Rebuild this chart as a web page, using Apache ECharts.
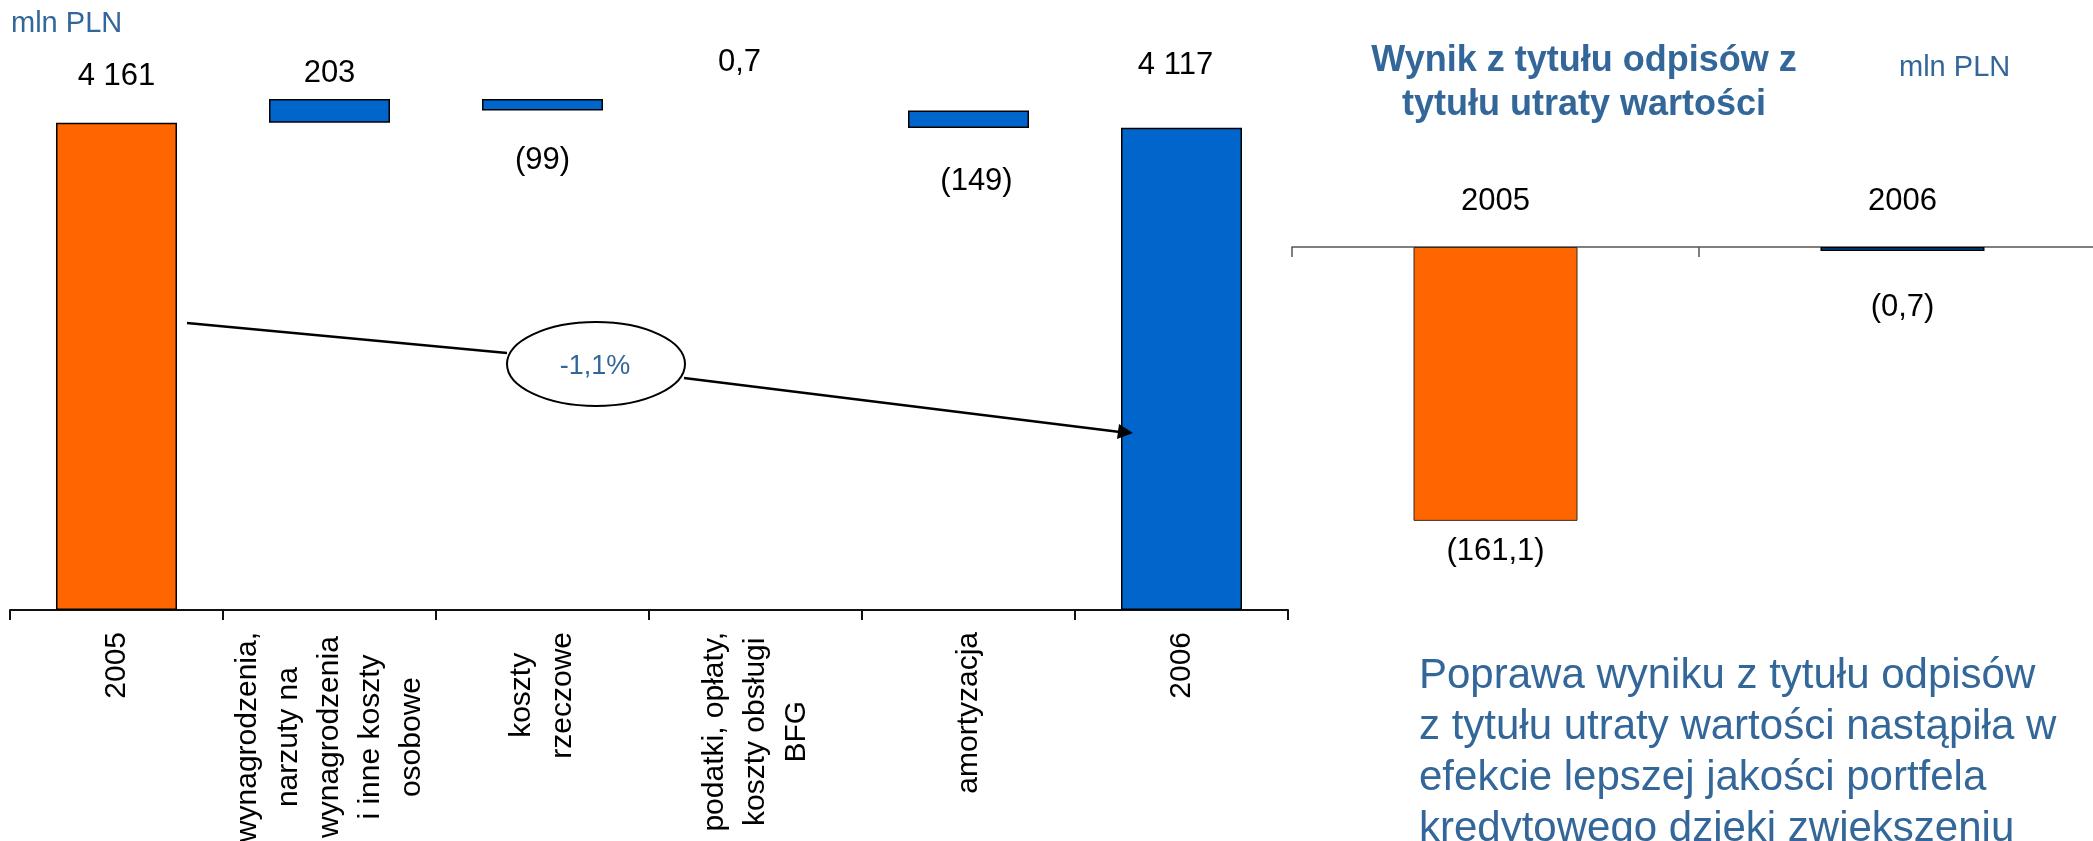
<!DOCTYPE html>
<html>
<head>
<meta charset="utf-8">
<script src="https://cdn.jsdelivr.net/npm/echarts@6/dist/echarts.min.js"></script>
<style>
  html, body { margin: 0; padding: 0; background: #ffffff; }
  #chart { width: 2093px; height: 841px; }
</style>
</head>
<body>
<div id="chart"></div>
<script>
// ---------- DATA ----------
const categories = [
  '2005',
  'wynagrodzenia,\nnarzuty na\nwynagrodzenia\ni inne koszty\nosobowe',
  'koszty\nrzeczowe',
  'podatki, opłaty,\nkoszty obsługi\nBFG',
  'amortyzacja',
  '2006'
];
const startValue = 4161;
const deltas = [203, -99, 0.7, -149];
const endValue = 4117;
const changeLabel = '-1,1%';

const impCategories = ['2005', '2006'];
const impValues = [-161.1, -0.7];

const unitLabel = 'mln PLN';
const impTitle = 'Wynik z tytułu odpisów z\ntytułu utraty wartości';
const comment = 'Poprawa wyniku z tytułu odpisów\nz tytułu utraty wartości nastąpiła w\nefekcie lepszej jakości portfela\nkredytowego dzięki zwiększeniu';

// ---------- STYLE ----------
const ORANGE = '#FF6600';
const BLUE = '#0066CC';
const TEXT_BLUE = '#336699';
const FONT = '"Liberation Sans", Arial, sans-serif';
const labelPos = ['top', 'top', 'bottom', 'top', 'bottom', 'top'];
const labelDist = [31, 10, 34, 32, 38, 47];
const labelOffX = [0, 0, 0, -16, 8, -6];
const impLabelDist = [15, 41];

// ---------- helpers ----------
function fmt(v) {
  const a = Math.abs(v);
  let s = String(a).replace('.', ',');
  const parts = s.split(',');
  parts[0] = parts[0].replace(/\B(?=(\d{3})+(?!\d))/g, ' ');
  s = parts.join(',');
  return v < 0 ? '(' + s + ')' : s;
}

// waterfall build
const baseVals = [0];
const barVals = [startValue];
const signedVals = [startValue];
let run = startValue;
deltas.forEach(d => {
  if (d >= 0) { baseVals.push(run); barVals.push(d); run += d; }
  else { run += d; baseVals.push(run); barVals.push(-d); }
  signedVals.push(d);
});
baseVals.push(0); barVals.push(endValue); signedVals.push(endValue);

const barData = barVals.map((v, i) => ({
  value: v,
  itemStyle: {
    color: i === 0 ? ORANGE : BLUE,
    borderColor: '#000',
    borderWidth: v < 1 ? 0 : 1.5
  },
  label: {
    show: true,
    position: labelPos[i],
    distance: labelDist[i],
    offset: [labelOffX[i], 0],
    formatter: () => fmt(signedVals[i])
  }
}));

const impData = impValues.map((v, i) => ({
  value: v,
  itemStyle: {
    color: i === 0 ? ORANGE : BLUE,
    borderColor: i === 0 ? '#3a2a1a' : '#000',
    borderWidth: i === 0 ? 1 : 1.5
  },
  label: {
    show: true,
    position: 'bottom',
    distance: impLabelDist[i],
    formatter: () => fmt(v)
  }
}));

const chart = echarts.init(document.getElementById('chart'), null, { renderer: 'canvas' });

const option = {
  backgroundColor: '#ffffff',
  animation: false,
  textStyle: { fontFamily: FONT },
  grid: [
    { left: 10, right: 805, top: 83, bottom: 231, outerBoundsMode: 'none', containLabel: false },
    { left: 1292, right: -13, top: 247, bottom: 254, outerBoundsMode: 'none', containLabel: false }
  ],
  xAxis: [
    {
      type: 'category', gridIndex: 0, data: categories,
      axisLine: { show: true, lineStyle: { color: '#111', width: 2 } },
      axisTick: { show: true, length: 10, lineStyle: { color: '#111', width: 2 } },
      axisLabel: {
        interval: 0, rotate: 90, margin: 22, color: '#000',
        fontSize: 30, fontFamily: FONT, lineHeight: 41,
        formatter: v => v.split('\n').map(l => '{c|' + l + '}').join('\n'),
        rich: { c: { align: 'center', fontSize: 30, lineHeight: 41, fontFamily: FONT, color: '#000' } }
      },
      splitLine: { show: false }
    },
    {
      type: 'category', gridIndex: 1, data: impCategories, position: 'top',
      axisLine: { show: true, onZero: false, lineStyle: { color: '#555', width: 1.5 } },
      axisTick: { show: true, inside: true, length: 10, lineStyle: { color: '#555', width: 1.5 } },
      axisLabel: { interval: 0, margin: 30, color: '#000', fontSize: 31, fontFamily: FONT },
      splitLine: { show: false }
    }
  ],
  yAxis: [
    { type: 'value', gridIndex: 0, min: 0, max: 4500, show: false, splitLine: { show: false } },
    { type: 'value', gridIndex: 1, min: -200, max: 0, show: false, splitLine: { show: false } }
  ],
  series: [
    {
      name: 'base', type: 'bar', stack: 'w', xAxisIndex: 0, yAxisIndex: 0,
      data: baseVals, barWidth: 121, silent: true,
      itemStyle: { color: 'rgba(0,0,0,0)', borderWidth: 0 },
      label: { show: false }
    },
    {
      name: 'koszty', type: 'bar', stack: 'w', xAxisIndex: 0, yAxisIndex: 0,
      data: barData, barWidth: 121,
      label: { color: '#000', fontSize: 31, fontFamily: FONT }
    },
    {
      name: 'odpisy', type: 'bar', xAxisIndex: 1, yAxisIndex: 1,
      data: impData, barWidth: 164, barMinHeight: 4,
      label: { color: '#000', fontSize: 31, fontFamily: FONT }
    }
  ],
  graphic: [
    { type: 'text', left: 11, top: 9, z: 100,
      style: { text: unitLabel, font: '29px ' + FONT, fill: TEXT_BLUE } },
    { type: 'text', left: 1899, top: 53, z: 100,
      style: { text: unitLabel, font: '29px ' + FONT, fill: TEXT_BLUE } },
    { type: 'text', x: 1584, y: 39, z: 100,
      style: { text: impTitle, font: 'bold 36px ' + FONT, fill: TEXT_BLUE,
               align: 'center', verticalAlign: 'top', lineHeight: 44 } },
    { type: 'text', x: 1419, y: 651, z: 100,
      style: { text: comment, font: '42px ' + FONT, fill: TEXT_BLUE,
               align: 'left', verticalAlign: 'top', lineHeight: 51 } },
    { type: 'line', z: 100,
      shape: { x1: 187, y1: 323, x2: 507, y2: 353 },
      style: { stroke: '#000', lineWidth: 2.5 } },
    { type: 'line', z: 100,
      shape: { x1: 684, y1: 378, x2: 1120, y2: 432 },
      style: { stroke: '#000', lineWidth: 2.5 } },
    { type: 'polygon', z: 101,
      shape: { points: [[1133, 433], [1117, 439], [1119, 424]] },
      style: { fill: '#000' } },
    { type: 'ellipse', z: 102,
      shape: { cx: 596, cy: 364, rx: 89, ry: 42 },
      style: { fill: '#fff', stroke: '#000', lineWidth: 2 } },
    { type: 'text', x: 595, y: 367, z: 103,
      style: { text: changeLabel, font: '27px ' + FONT, fill: TEXT_BLUE,
               align: 'center', verticalAlign: 'middle' } }
  ]
};

chart.setOption(option);
</script>
</body>
</html>
